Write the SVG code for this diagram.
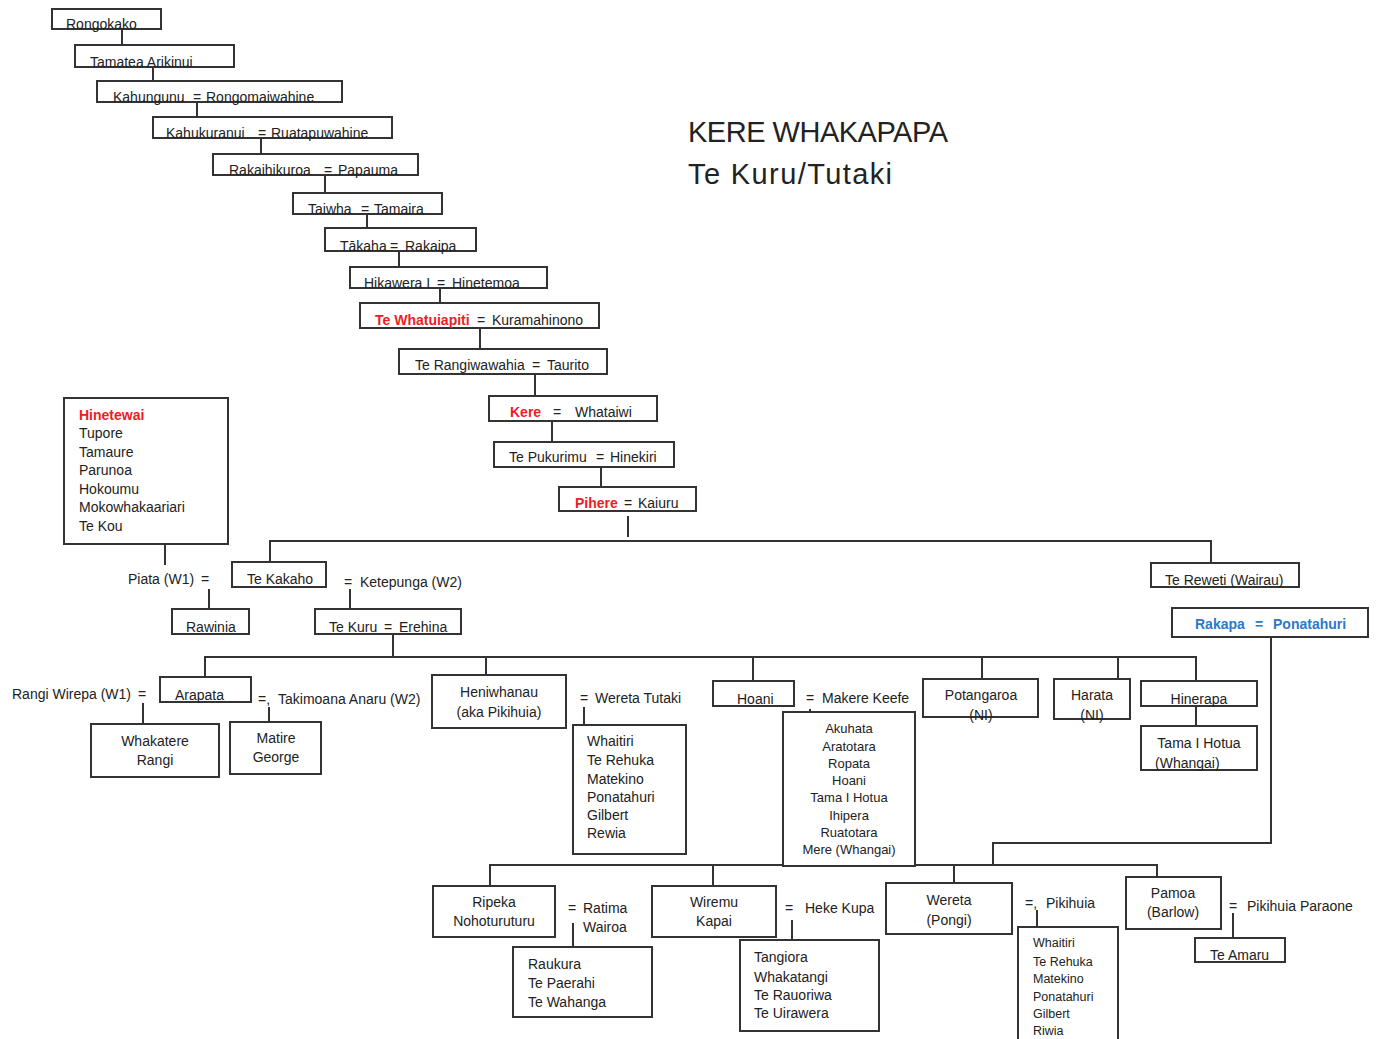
<svg xmlns="http://www.w3.org/2000/svg" width="1378" height="1039" viewBox="0 0 1378 1039">
<style>
.b{fill:#fff;stroke:#333;stroke-width:2}
.t{font-family:"Liberation Sans",Arial,sans-serif;font-size:14px;fill:#222}
.s{font-size:13px}
.xs{font-size:12.5px}
.c{text-anchor:middle}
.r{fill:#ee1c25;font-weight:bold}
.bl{fill:#2e78c9;font-weight:bold}
.ttl{font-family:"Liberation Sans",Arial,sans-serif;font-size:29px;fill:#222}
.ln{fill:none;stroke:#333;stroke-width:2}
</style>
<rect width="1378" height="1039" fill="#fff"/>
<g id="connectors" class="ln">
<path d="M122 29V45M153 67V81M197 102V117M261 138V154M325 175V193M367 214V228M399 251V267M440 288V303M480 328V349M535 374V396M552 421V442M601 467V487M628 516V537"/>
<path d="M270 562V541H1211V563M165 544V565M209 589V609M350 589V609"/>
<path d="M393 634V657M205 677V657H1196V681M486 657V675M753 657V681M982 657V679M1118 657V679"/>
<path d="M143 703V724M269 707V722M584 707V725M810 709V718M1196 706V726"/>
<path d="M1271 637V843H993V865M490 886V865H1157V877M713 865V886M954 865V883"/>
<path d="M573 923V947M792 920V940M1037 910V927M1233 913V938"/>
</g>
<g id="title">
<text class="ttl" x="688" y="142" textLength="260">KERE WHAKAPAPA</text>
<text class="ttl" x="688" y="184" textLength="204">Te Kuru/Tutaki</text>
</g>
<g id="n-rongokako"><rect class="b" x="52" y="9" width="109" height="20"/><text class="t" x="66" y="29">Rongokako</text></g>
<g id="n-tamatea"><rect class="b" x="75" y="45" width="159" height="22"/><text class="t" x="90" y="67">Tamatea Arikinui</text></g>
<g id="n-kahungunu"><rect class="b" x="97" y="81" width="245" height="21"/><text class="t" x="113" y="102">Kahungunu</text><text class="t" x="193" y="102">=</text><text class="t" x="206" y="102">Rongomaiwahine</text></g>
<g id="n-kahukuranui"><rect class="b" x="153" y="117" width="239" height="21"/><text class="t" x="166" y="138">Kahukuranui</text><text class="t" x="258" y="138">=</text><text class="t" x="271" y="138">Ruatapuwahine</text></g>
<g id="n-rakaihikuroa"><rect class="b" x="213" y="154" width="205" height="21"/><text class="t" x="229" y="175">Rakaihikuroa</text><text class="t" x="324" y="175">=</text><text class="t" x="338" y="175">Papauma</text></g>
<g id="n-taiwha"><rect class="b" x="293" y="193" width="149" height="21"/><text class="t" x="308" y="214">Taiwha</text><text class="t" x="361" y="214">=</text><text class="t" x="374" y="214">Tamaira</text></g>
<g id="n-takaha"><rect class="b" x="325" y="228" width="151" height="23"/><text class="t" x="340" y="251">Tākaha</text><text class="t" x="390" y="251">=</text><text class="t" x="405" y="251">Rakaipa</text></g>
<g id="n-hikawera"><rect class="b" x="350" y="267" width="197" height="21"/><text class="t" x="364" y="288">Hikawera I</text><text class="t" x="437" y="288">=</text><text class="t" x="452" y="288">Hinetemoa</text></g>
<g id="n-whatuiapiti"><rect class="b" x="360" y="303" width="239" height="25"/><text class="t r" x="375" y="325">Te Whatuiapiti</text><text class="t" x="477" y="325">=</text><text class="t" x="492" y="325">Kuramahinono</text></g>
<g id="n-rangiwawahia"><rect class="b" x="399" y="349" width="208" height="25"/><text class="t" x="415" y="370">Te Rangiwawahia</text><text class="t" x="532" y="370">=</text><text class="t" x="547" y="370">Taurito</text></g>
<g id="n-kere"><rect class="b" x="489" y="396" width="168" height="25"/><text class="t r" x="510" y="417">Kere</text><text class="t" x="553" y="417">=</text><text class="t" x="575" y="417">Whataiwi</text></g>
<g id="n-pukurimu"><rect class="b" x="494" y="442" width="180" height="25"/><text class="t" x="509" y="462">Te Pukurimu</text><text class="t" x="596" y="462">=</text><text class="t" x="610" y="462">Hinekiri</text></g>
<g id="n-pihere"><rect class="b" x="559" y="487" width="137" height="24"/><text class="t r" x="575" y="508">Pihere</text><text class="t" x="624" y="508">=</text><text class="t" x="638" y="508">Kaiuru</text></g>
<g id="n-hinetewai"><rect class="b" x="64" y="398" width="164" height="146"/>
<text class="t r" x="79" y="420">Hinetewai</text><text class="t" x="79" y="438">Tupore</text><text class="t" x="79" y="457">Tamaure</text><text class="t" x="79" y="475">Parunoa</text><text class="t" x="79" y="494">Hokoumu</text><text class="t" x="79" y="512">Mokowhakaariari</text><text class="t" x="79" y="531">Te Kou</text></g>
<g id="n-piata"><text class="t" x="128" y="584">Piata (W1)</text><text class="t" x="201" y="584">=</text></g>
<g id="n-rawinia"><rect class="b" x="172" y="609" width="77" height="25"/><text class="t" x="186" y="632">Rawinia</text></g>
<g id="n-tekakaho"><rect class="b" x="232" y="562" width="94" height="25"/><text class="t" x="247" y="584">Te Kakaho</text></g>
<g id="n-ketepunga"><text class="t" x="344" y="587">=</text><text class="t" x="360" y="587">Ketepunga (W2)</text></g>
<g id="n-tekuru"><rect class="b" x="315" y="609" width="146" height="25"/><text class="t" x="329" y="632">Te Kuru</text><text class="t" x="384" y="632">=</text><text class="t" x="399" y="632">Erehina</text></g>
<g id="n-rangiwirepa"><text class="t" x="12" y="699">Rangi Wirepa (W1)</text><text class="t" x="138" y="699">=</text></g>
<g id="n-arapata"><rect class="b" x="160" y="677" width="91" height="25"/><text class="t" x="175" y="700">Arapata</text></g>
<g id="n-takimoana"><text class="t" x="258" y="704">=,</text><text class="t" x="278" y="704">Takimoana Anaru (W2)</text></g>
<g id="n-whakatere"><rect class="b" x="91" y="724" width="128" height="53"/><text class="t c" x="155" y="746">Whakatere</text><text class="t c" x="155" y="765">Rangi</text></g>
<g id="n-matire"><rect class="b" x="230" y="722" width="91" height="52"/><text class="t c" x="276" y="743">Matire</text><text class="t c" x="276" y="762">George</text></g>
<g id="n-heniwhanau"><rect class="b" x="432" y="675" width="134" height="53"/><text class="t c" x="499" y="697">Heniwhanau</text><text class="t c" x="499" y="717">(aka Pikihuia)</text></g>
<g id="n-weretatutaki"><text class="t" x="580" y="703">=</text><text class="t" x="595" y="703">Wereta Tutaki</text></g>
<g id="n-whaitiri1"><rect class="b" x="573" y="725" width="113" height="129"/>
<text class="t" x="587" y="746">Whaitiri</text><text class="t" x="587" y="765">Te Rehuka</text><text class="t" x="587" y="784">Matekino</text><text class="t" x="587" y="802">Ponatahuri</text><text class="t" x="587" y="820">Gilbert</text><text class="t" x="587" y="838">Rewia</text></g>
<g id="n-hoani"><rect class="b" x="713" y="681" width="81" height="25"/><text class="t" x="737" y="704">Hoani</text></g>
<g id="n-makere"><text class="t" x="806" y="703">=</text><text class="t" x="822" y="703">Makere Keefe</text></g>
<g id="n-akuhata"><rect class="b" x="783" y="712" width="132" height="154"/>
<text class="t s c" x="849" y="733">Akuhata</text><text class="t s c" x="849" y="751">Aratotara</text><text class="t s c" x="849" y="768">Ropata</text><text class="t s c" x="849" y="785">Hoani</text><text class="t s c" x="849" y="802">Tama I Hotua</text><text class="t s c" x="849" y="820">Ihipera</text><text class="t s c" x="849" y="837">Ruatotara</text><text class="t s c" x="849" y="854">Mere (Whangai)</text></g>
<g id="n-potangaroa"><rect class="b" x="923" y="679" width="115" height="38"/><text class="t c" x="981" y="700">Potangaroa</text><text class="t c" x="981" y="720">(NI)</text></g>
<g id="n-harata"><rect class="b" x="1054" y="679" width="76" height="40"/><text class="t c" x="1092" y="700">Harata</text><text class="t c" x="1092" y="720">(NI)</text></g>
<g id="n-hinerapa"><rect class="b" x="1141" y="681" width="116" height="25"/><text class="t c" x="1199" y="704">Hinerapa</text></g>
<g id="n-tamaihotua"><rect class="b" x="1141" y="726" width="116" height="44"/><text class="t c" x="1199" y="748">Tama I Hotua</text><text class="t" x="1155" y="768">(Whangai)</text></g>
<g id="n-tereweti"><rect class="b" x="1151" y="563" width="148" height="24"/><text class="t" x="1165" y="585">Te Reweti (Wairau)</text></g>
<g id="n-rakapa"><rect class="b" x="1172" y="608" width="196" height="29"/><text class="t bl" x="1195" y="629">Rakapa</text><text class="t bl" x="1255" y="629">=</text><text class="t bl" x="1273" y="629">Ponatahuri</text></g>
<g id="n-ripeka"><rect class="b" x="433" y="886" width="122" height="51"/><text class="t c" x="494" y="907">Ripeka</text><text class="t c" x="494" y="926">Nohoturuturu</text></g>
<g id="n-ratima"><text class="t" x="568" y="913">=</text><text class="t" x="583" y="913">Ratima</text><text class="t" x="583" y="932">Wairoa</text></g>
<g id="n-raukura"><rect class="b" x="513" y="947" width="139" height="70"/><text class="t" x="528" y="969">Raukura</text><text class="t" x="528" y="988">Te Paerahi</text><text class="t" x="528" y="1007">Te Wahanga</text></g>
<g id="n-wiremu"><rect class="b" x="652" y="886" width="124" height="51"/><text class="t c" x="714" y="907">Wiremu</text><text class="t c" x="714" y="926">Kapai</text></g>
<g id="n-hekekupa"><text class="t" x="785" y="913">=</text><text class="t" x="805" y="913">Heke Kupa</text></g>
<g id="n-tangiora"><rect class="b" x="740" y="940" width="139" height="91"/><text class="t" x="754" y="962">Tangiora</text><text class="t" x="754" y="982">Whakatangi</text><text class="t" x="754" y="1000">Te Rauoriwa</text><text class="t" x="754" y="1018">Te Uirawera</text></g>
<g id="n-wereta"><rect class="b" x="886" y="883" width="126" height="51"/><text class="t c" x="949" y="905">Wereta</text><text class="t c" x="949" y="925">(Pongi)</text></g>
<g id="n-pikihuia"><text class="t" x="1025" y="908">=,</text><text class="t" x="1046" y="908">Pikihuia</text></g>
<g id="n-whaitiri2"><rect class="b" x="1018" y="927" width="100" height="125"/>
<text class="t xs" x="1033" y="947">Whaitiri</text><text class="t xs" x="1033" y="966">Te Rehuka</text><text class="t xs" x="1033" y="983">Matekino</text><text class="t xs" x="1033" y="1001">Ponatahuri</text><text class="t xs" x="1033" y="1018">Gilbert</text><text class="t xs" x="1033" y="1035">Riwia</text></g>
<g id="n-pamoa"><rect class="b" x="1126" y="877" width="95" height="52"/><text class="t c" x="1173" y="898">Pamoa</text><text class="t c" x="1173" y="917">(Barlow)</text></g>
<g id="n-pikihuiaparaone"><text class="t" x="1229" y="911">=</text><text class="t" x="1247" y="911">Pikihuia Paraone</text></g>
<g id="n-teamaru"><rect class="b" x="1195" y="938" width="90" height="24"/><text class="t" x="1210" y="960">Te Amaru</text></g>
</svg>
